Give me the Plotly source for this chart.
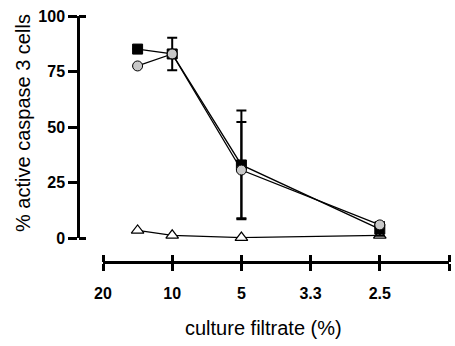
import plotly.graph_objects as go

# data
x_ticks = [0, 1, 2, 3, 4, 5]
x_labels = ["20", "10", "5", "3.3", "2.5", ""]
x_pos = [0.5, 1, 2, 4]

square_vals = [85.1, 82.9, 32.9, 4.0]
square_err = [0, 7.3, 24.5, 3.0]
circle_vals = [77.5, 82.9, 30.6, 5.9]
circle_err = [0, 1.5, 21.7, 1.3]
triangle_vals = [3.4, 1.2, 0.2, 1.2]

y_ticks = [0, 25, 50, 75, 100]
y_end_ticks = [0, 100]

W, H = 455, 346
L, R, T, B = 78, 6, 16, 84
pw = W - L - R
ph = H - T - B

def px_x(v):
    return (v - L) / pw

def px_y(v):
    return (H - B - v) / ph

FONT = "Arial, Liberation Sans, sans-serif"

fig = go.Figure()

fig.add_trace(go.Scatter(
    x=x_pos, y=triangle_vals, mode="lines+markers",
    line=dict(color="black", width=1.3),
    marker=dict(symbol="triangle-up", size=11, color="white",
                line=dict(color="black", width=1.2)),
    cliponaxis=False, showlegend=False))

fig.add_trace(go.Scatter(
    x=x_pos, y=square_vals, mode="lines+markers",
    line=dict(color="black", width=1.3),
    marker=dict(symbol="square", size=10, color="black",
                line=dict(color="black", width=1)),
    error_y=dict(type="data", array=square_err, color="black",
                 thickness=2, width=5),
    cliponaxis=False, showlegend=False))

fig.add_trace(go.Scatter(
    x=x_pos, y=circle_vals, mode="lines+markers",
    line=dict(color="black", width=1.3),
    marker=dict(symbol="circle", size=10, color="#c8c8c8",
                line=dict(color="black", width=1)),
    error_y=dict(type="data", array=circle_err, color="black",
                 thickness=2, width=5),
    cliponaxis=False, showlegend=False))

# invisible trace so the mirror axes (crossing ticks) are drawn
fig.add_trace(go.Scatter(x=[1], y=[50], xaxis="x2", yaxis="y2",
                         mode="markers", marker=dict(opacity=0, size=1),
                         showlegend=False, hoverinfo="skip"))

xdom = [px_x(103), 1]
ydom = [px_y(238), 1]

fig.update_layout(
    width=W, height=H,
    margin=dict(l=L, r=R, t=T, b=B, pad=0),
    paper_bgcolor="white", plot_bgcolor="white",
    xaxis=dict(domain=xdom, range=[0, 5], anchor="free", position=0,
               tickvals=x_ticks, ticktext=x_labels,
               showline=True, linecolor="black", linewidth=2.5,
               ticks="outside", ticklen=7, tickwidth=2.5, tickcolor="black",
               ticklabelstandoff=9,
               showgrid=False, zeroline=False,
               tickfont=dict(family=FONT, size=16, color="black", weight="bold")),
    xaxis2=dict(domain=xdom, range=[0, 5], anchor="free", position=0,
                side="top", overlaying="x", tickvals=x_ticks,
                showticklabels=False, showline=False,
                ticks="outside", ticklen=7, tickwidth=2.5,
                tickcolor="black", showgrid=False, zeroline=False),
    yaxis=dict(domain=ydom, range=[0, 100], anchor="free", position=0,
               tickvals=y_ticks,
               showline=True, linecolor="black", linewidth=2.5,
               ticks="outside", ticklen=9, tickwidth=2.5, tickcolor="black",
               showgrid=False, zeroline=False,
               tickfont=dict(family=FONT, size=16, color="black", weight="bold")),
    yaxis2=dict(domain=ydom, range=[0, 100], anchor="free", position=0,
                side="right", overlaying="y", tickvals=y_end_ticks,
                showticklabels=False, showline=False,
                ticks="outside", ticklen=7, tickwidth=2.5,
                tickcolor="black", showgrid=False, zeroline=False),
    annotations=[
        dict(text="culture filtrate (%)", xref="paper", yref="paper",
             x=px_x(263), y=px_y(328), xanchor="center", yanchor="middle",
             showarrow=False, font=dict(family=FONT, size=20, color="black")),
        dict(text="% active caspase 3 cells", xref="paper", yref="paper",
             x=px_x(23), y=px_y(123), xanchor="center", yanchor="middle",
             textangle=-90, showarrow=False,
             font=dict(family=FONT, size=20, color="black")),
    ],
)

fig.write_html("out.html")
